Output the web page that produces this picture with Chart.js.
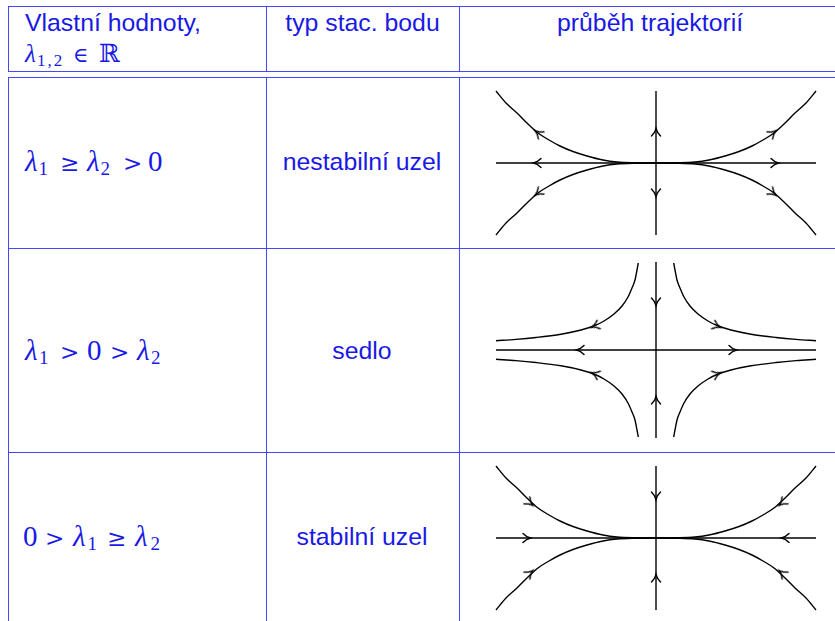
<!DOCTYPE html>
<html>
<head>
<meta charset="utf-8">
<script src="https://cdn.jsdelivr.net/npm/chart.js@4.4.1/dist/chart.umd.min.js"></script>
<style>
    body {
        margin: 0;
        width: 835px;
        height: 621px;
        overflow: hidden;
        position: relative;
        background: #fff;
        font-family: "Liberation Sans", Arial, sans-serif;
        color: #1919e6;
    }
    .hl, .vl {
        position: absolute;
        background: #4646ff;
    }
    .hl { height: 1.4px; left: 7.5px; right: 0; }
    .vl { width: 1.4px; }
    .t {
        position: absolute;
        font-size: 24.8px;
        line-height: 24.8px;
        white-space: nowrap;
    }
    .c { transform: translateX(-50%); }
    .m {
        font-family: "Liberation Serif", "DejaVu Serif", serif;
        font-size: 29px;
        line-height: 29px;
    }
    .m span { display: inline-block; }
    .m .l { font-style: italic; }
    .m .s { font-size: 19px; vertical-align: -4px; }
    .m .r { font-family: "DejaVu Serif", serif; font-size: 23px; }
    .hm { font-size: 25px; line-height: 25px; }
    .hm .s { font-size: 17px; letter-spacing: 2px; vertical-align: -4px; }
    canvas.portrait { position: absolute; }
</style>
</head>
<body>

<!-- table frame -->
<div class="hl" style="top:6px"></div>
<div class="hl" style="top:70.5px"></div>
<div class="hl" style="top:76.7px"></div>
<div class="hl" style="top:247.7px"></div>
<div class="hl" style="top:451.5px"></div>
<div class="vl" style="left:7.5px;top:6px;height:65.8px"></div>
<div class="vl" style="left:266px;top:6px;height:65.8px"></div>
<div class="vl" style="left:458.5px;top:6px;height:65.8px"></div>
<div class="vl" style="left:7.5px;top:76.7px;height:560px"></div>
<div class="vl" style="left:266px;top:76.7px;height:560px"></div>
<div class="vl" style="left:458.5px;top:76.7px;height:560px"></div>

<!-- header -->
<div class="t" style="left:25px;top:11px">Vlastní hodnoty,</div>
<div class="t m hm" style="left:25px;top:40.8px"><span class="l" style="width:12px">λ</span><span class="s" style="width:36px">1,2</span><span class="r" style="width:26px;font-size:21px">∈</span><span style="font-family:'DejaVu Serif'">ℝ</span></div>
<div class="t c" style="left:362.5px;top:11px">typ stac. bodu</div>
<div class="t" style="left:557px;top:11px">průběh trajektorií</div>

<!-- rows -->
<div class="t m" style="left:25px;top:146.7px"><span class="l" style="width:13.5px">λ</span><span class="s" style="width:21.5px">1</span><span class="r" style="width:27px">≥</span><span class="l" style="width:13.5px">λ</span><span class="s" style="width:22.5px">2</span><span class="r" style="width:25px">&gt;</span><span>0</span></div>
<div class="t c" style="left:362px;top:150px">nestabilní uzel</div>

<div class="t m" style="left:25px;top:335.7px"><span class="l" style="width:14px">λ</span><span class="s" style="width:21px">1</span><span class="r" style="width:27px">&gt;</span><span style="width:23px">0</span><span class="r" style="width:27px">&gt;</span><span class="l" style="width:14px">λ</span><span class="s">2</span></div>
<div class="t c" style="left:362px;top:339px">sedlo</div>

<div class="t m" style="left:23px;top:521.7px"><span style="width:22px">0</span><span class="r" style="width:28px">&gt;</span><span class="l" style="width:14.5px">λ</span><span class="s" style="width:19.5px">1</span><span class="r" style="width:28px">≥</span><span class="l" style="width:15.5px">λ</span><span class="s">2</span></div>
<div class="t c" style="left:362px;top:525px">stabilní uzel</div>

<canvas id="unstable" class="portrait" width="340" height="160" style="left:486px;top:83px"></canvas>
<canvas id="saddle" class="portrait" width="340" height="200" style="left:486px;top:250px"></canvas>
<canvas id="stable" class="portrait" width="340" height="160" style="left:486px;top:458px"></canvas>

<script>
// one branch of the node trajectories (upper right quadrant)
const nodeBranchX = [0, 20, 39, 53, 69, 83, 96, 107, 118, 128, 139, 150, 160];
const nodeBranchY = [0, 0.2, 1, 3, 7, 11.5, 17, 23, 30, 39, 50, 60, 72];
const nodeAxisX = [-160, 160];
const nodeAxisY = [-72, 72];

// one branch of the saddle trajectories (upper right quadrant)
const saddleBranchX = [17.7, 19, 21, 24, 28, 34, 42, 52, 61, 75, 95, 120, 140, 160];
const saddleBranchY = [87, 80, 70, 62, 53, 44, 36, 29, 24.5, 20, 15.8, 12.5, 10.6, 9.3];
const saddleAxisX = [-160, 160];
const saddleAxisY = [-88, 88];

// arrow marks: position and direction (degrees, clockwise on screen)
const unstableArrowX = [-119, 119, 0, 0, -118, 117, -118, 117];
const unstableArrowY = [0, 0, 31, -30, 30, 30, -30, -30];
const unstableArrowRot = [180, 0, -90, 90, 218, -38, 142, 38];

const saddleArrowX = [-76, 77, 0, 0, -61, 61, -61, 61];
const saddleArrowY = [0, 0, 48, -50, 24, 24, -24, -24];
const saddleArrowRot = [180, 0, 90, -90, 159, 21, 201, -21];

const stableArrowX = [-129, 129, 0, 0, -126, 126, -126, 126];
const stableArrowY = [0, 0, 42, -40, 35, 35, -35, -35];
const stableArrowRot = [0, 180, 90, -90, 40, 140, -40, 220];

// chevron used as point style, pointing right at rotation 0
const chevron = document.createElement('canvas');
chevron.width = 16;
chevron.height = 16;
(function() {
    const c = chevron.getContext('2d');
    c.strokeStyle = '#000';
    c.lineWidth = 1.4;
    c.lineCap = 'round';
    c.beginPath();
    c.moveTo(4, 3.4);
    c.quadraticCurveTo(7.5, 7, 11.5, 8);
    c.quadraticCurveTo(7.5, 9, 4, 12.6);
    c.stroke();
})();

function toPoints(xs, ys, sx, sy) {
    return xs.map((x, i) => ({ x: x * sx, y: ys[i] * sy }));
}

function lineSet(points) {
    return {
        data: points,
        showLine: true,
        borderColor: '#000',
        borderWidth: 1.4,
        pointRadius: 0,
        cubicInterpolationMode: 'monotone'
    };
}

function drawPortrait(canvasId, yMax, branchX, branchY, axisX, axisY, arrowX, arrowY, arrowRot) {
    const datasets = [];
    datasets.push({
        data: toPoints(arrowX, arrowY, 1, 1),
        showLine: false,
        pointStyle: chevron,
        pointRotation: arrowRot,
        pointRadius: 8
    });
    datasets.push(lineSet([{ x: axisX[0], y: 0 }, { x: axisX[1], y: 0 }]));
    datasets.push(lineSet([{ x: 0, y: axisY[0] }, { x: 0, y: axisY[1] }]));
    [[1, 1], [-1, 1], [1, -1], [-1, -1]].forEach(([sx, sy]) => {
        datasets.push(lineSet(toPoints(branchX, branchY, sx, sy)));
    });

    new Chart(document.getElementById(canvasId), {
        type: 'scatter',
        data: { datasets: datasets },
        options: {
            responsive: false,
            animation: false,
            events: [],
            layout: { padding: 0, autoPadding: false },
            plugins: {
                legend: { display: false },
                tooltip: { enabled: false }
            },
            scales: {
                x: { type: 'linear', min: -170, max: 170, display: false },
                y: { type: 'linear', min: -yMax, max: yMax, display: false }
            }
        }
    });
}

drawPortrait('unstable', 80, nodeBranchX, nodeBranchY, nodeAxisX, nodeAxisY,
    unstableArrowX, unstableArrowY, unstableArrowRot);
drawPortrait('saddle', 100, saddleBranchX, saddleBranchY, saddleAxisX, saddleAxisY,
    saddleArrowX, saddleArrowY, saddleArrowRot);
drawPortrait('stable', 80, nodeBranchX, nodeBranchY, nodeAxisX, nodeAxisY,
    stableArrowX, stableArrowY, stableArrowRot);
</script>
</body>
</html>
